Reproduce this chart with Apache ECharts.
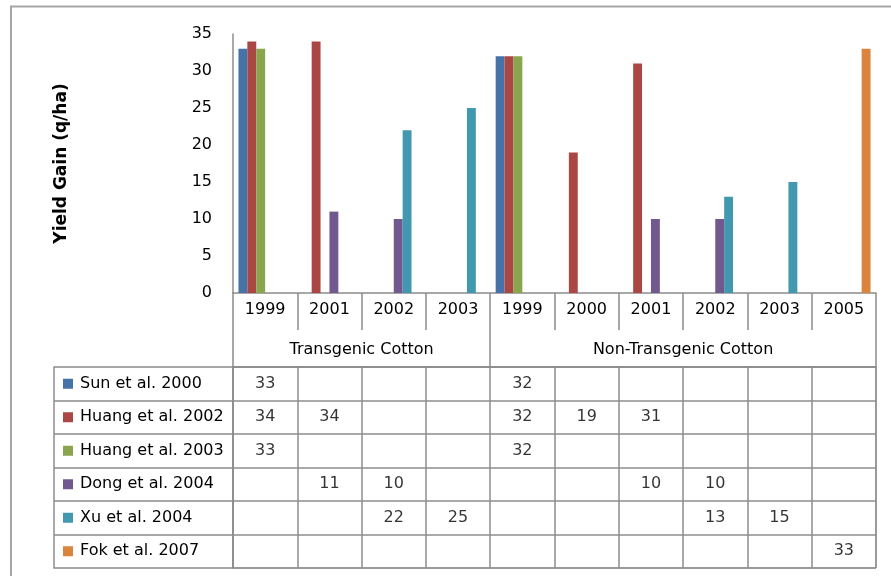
<!DOCTYPE html>
<html>
<head>
<meta charset="utf-8">
<script src="https://cdn.jsdelivr.net/npm/echarts@6/dist/echarts.min.js"></script>
<style>html,body{margin:0;padding:0;background:#fff}#c{width:891px;height:576px}</style>
</head>
<body>
<div id="c"></div>
<script>
// ---- data ----
const years = ['1999', '2001', '2002', '2003', '1999', '2000', '2001', '2002', '2003', '2005'];
const groupNames = ['Transgenic Cotton', 'Non-Transgenic Cotton'];
const groupSizes = [4, 6];
const seriesNames = ['Sun et al. 2000', 'Huang et al. 2002', 'Huang et al. 2003', 'Dong et al. 2004', 'Xu et al. 2004', 'Fok et al. 2007'];
const sun2000   = [33, null, null, null, 32, null, null, null, null, null];
const huang2002 = [34, 34, null, null, 32, 19, 31, null, null, null];
const huang2003 = [33, null, null, null, 32, null, null, null, null, null];
const dong2004  = [null, 11, 10, null, null, null, 10, 10, null, null];
const xu2004    = [null, null, 22, 25, null, null, null, 13, 15, null];
const fok2007   = [null, null, null, null, null, null, null, null, null, 33];
const yMin = 0, yMax = 35, yStep = 5;
const yTitle = 'Yield Gain (q/ha)';

// ---- styling ----
const colors = ['#4572A7', '#AA4643', '#89A54E', '#71588F', '#4198AF', '#DB843D'];
const lineColor = '#8c8c8c';
const font = 'DejaVu Sans';

const allSeries = [sun2000, huang2002, huang2003, dong2004, xu2004, fok2007];

// group boundaries and centers from group sizes
const groupBounds = [0];
groupSizes.forEach(s => groupBounds.push(groupBounds[groupBounds.length - 1] + s));
const groupCenters = groupSizes.map((s, i) => groupBounds[i] + s / 2);

// table cells
const cellData = [];
allSeries.forEach((arr, si) => arr.forEach((v, xi) => { if (v != null) cellData.push([xi, si, v]); }));

const rich = { t: { fontSize: 16, fontFamily: font, color: '#000', padding: [0, 0, 0, 7] } };
colors.forEach((c, i) => { rich['c' + i] = { width: 10, height: 10, lineHeight: 10, backgroundColor: c, padding: 0 }; });

const chart = echarts.init(document.getElementById('c'));
chart.setOption({
  animation: false,
  textStyle: { fontFamily: font },
  graphic: [{
    type: 'polyline', silent: true,
    shape: { points: [[11, 576], [11, 6.5], [891, 6.5]] },
    style: { stroke: '#a6a6a6', lineWidth: 2, fill: null }
  }],
  grid: [
    { left: 233, right: 15, top: 34, bottom: 283 },
    { left: 233, right: 15, top: 367, bottom: 8, show: true, borderColor: lineColor, borderWidth: 1 }
  ],
  xAxis: [
    {
      type: 'category', gridIndex: 0, data: years,
      axisLine: { lineStyle: { color: lineColor, width: 1.5 } },
      axisTick: { show: true, interval: 0, length: 37, lineStyle: { color: lineColor, width: 1.5 } },
      axisLabel: { interval: 0, fontSize: 16, color: '#000', margin: 9 }
    },
    {
      type: 'value', gridIndex: 0, position: 'bottom', offset: 74,
      min: groupBounds[0], max: groupBounds[groupBounds.length - 1],
      axisLine: { show: true, lineStyle: { color: lineColor, width: 1.5 } },
      axisTick: { show: true, inside: true, length: 37, customValues: groupBounds, lineStyle: { color: lineColor, width: 1.5 } },
      axisLabel: {
        show: true, inside: true, margin: 9, fontSize: 16, color: '#000',
        customValues: groupCenters,
        formatter: v => groupNames[groupCenters.indexOf(v)] || ''
      },
      splitLine: { show: false }
    },
    {
      type: 'category', gridIndex: 1, data: years,
      axisLine: { show: false }, axisTick: { show: false }, axisLabel: { show: false },
      splitLine: { show: true, interval: 0, lineStyle: { color: lineColor, width: 1.5 } }
    }
  ],
  yAxis: [
    {
      type: 'value', gridIndex: 0, min: yMin, max: yMax, interval: yStep,
      name: yTitle, nameLocation: 'middle', nameGap: 163,
      nameTextStyle: { fontSize: 17, fontWeight: 'bold', color: '#000', fontFamily: font },
      axisLine: { show: true, lineStyle: { color: lineColor, width: 1.5 } },
      axisTick: { show: false },
      axisLabel: { fontSize: 16, color: '#000', margin: 21 },
      splitLine: { show: false }
    },
    {
      type: 'category', gridIndex: 1, data: seriesNames, inverse: true,
      axisLine: { show: true, lineStyle: { color: lineColor, width: 1.5 } },
      axisTick: { show: true, interval: 0, length: 179, lineStyle: { color: lineColor, width: 1.5 } },
      axisLabel: {
        interval: 0, align: 'left', margin: 170,
        formatter: (v, i) => '{c' + i + '|}{t|' + v + '}',
        rich: rich
      },
      splitLine: { show: true, interval: 0, lineStyle: { color: lineColor, width: 1.5 } }
    },
    {
      type: 'value', gridIndex: 1, position: 'left', offset: 179, min: 0, max: 1,
      axisLine: { show: true, lineStyle: { color: lineColor, width: 1.5 } },
      axisTick: { show: false }, axisLabel: { show: false }, splitLine: { show: false }
    }
  ],
  series: allSeries.map((arr, i) => ({
    name: seriesNames[i], type: 'bar', xAxisIndex: 0, yAxisIndex: 0,
    data: arr, barGap: '0%', barCategoryGap: '17%',
    itemStyle: { color: colors[i] }
  })).concat([{
    type: 'scatter', xAxisIndex: 2, yAxisIndex: 1, data: cellData,
    symbol: 'rect', symbolSize: 2, itemStyle: { color: 'rgba(0,0,0,0)' },
    label: { show: true, position: 'inside', formatter: p => String(p.value[2]), fontSize: 16, color: '#000', textBorderWidth: 0, fontFamily: font }
  }])
});
</script>
</body>
</html>
